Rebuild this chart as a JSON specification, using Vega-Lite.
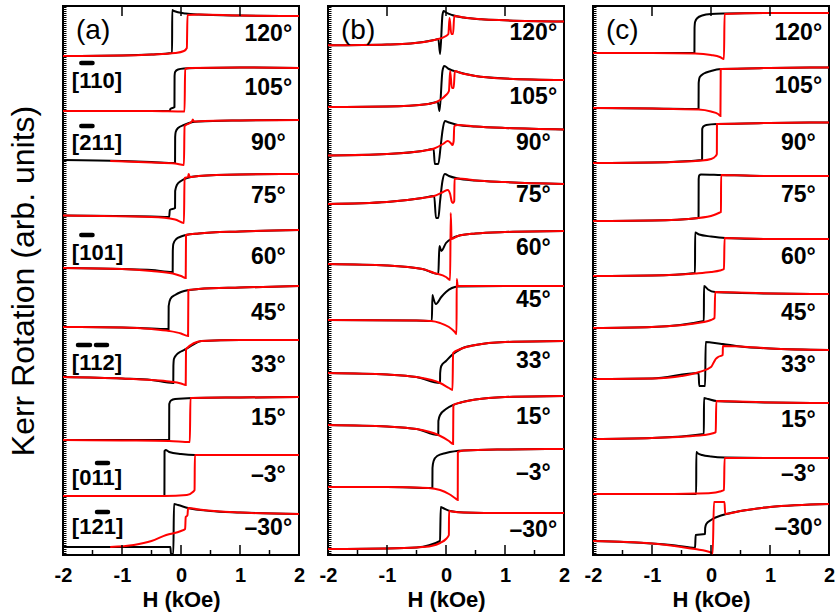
{
"$schema": "https://vega.github.io/schema/vega-lite/v6.json",
"padding": {"left": 6, "top": 4, "right": 3, "bottom": 2},
"spacing": 29,
"bounds": "flush",
"config": {"font": "Liberation Sans", "view": {"stroke": "#000", "strokeWidth": 2}},
"datasets": {
"ak": [
{"a":120,"x":2,"y":539},{"a":120,"x":1,"y":539.5},{"a":120,"x":0.3,"y":540.5},{"a":120,"x":0.08,"y":541.5},{"a":120,"x":-0.12,"y":544},{"a":120,"x":-0.149,"y":545},{"a":120,"x":-0.151,"y":502},{"a":120,"x":-0.5,"y":500.5},{"a":120,"x":-1,"y":499.5},{"a":120,"x":-2,"y":499},
{"a":105,"x":2,"y":487},{"a":105,"x":1,"y":487.5},{"a":105,"x":0.3,"y":487},{"a":105,"x":0.05,"y":486.5},{"a":105,"x":-0.05,"y":485.5},{"a":105,"x":-0.1,"y":483},{"a":105,"x":-0.109,"y":479},{"a":105,"x":-0.111,"y":448},{"a":105,"x":-0.18,"y":446},{"a":105,"x":-0.19,"y":444},{"a":105,"x":-0.5,"y":444},{"a":105,"x":-2,"y":444},
{"a":90,"x":2,"y":435},{"a":90,"x":1,"y":434.5},{"a":90,"x":0.3,"y":433.5},{"a":90,"x":0.2,"y":433},{"a":90,"x":0.05,"y":430},{"a":90,"x":-0.05,"y":427},{"a":90,"x":-0.09,"y":423},{"a":90,"x":-0.099,"y":418},{"a":90,"x":-0.101,"y":392},{"a":90,"x":-0.5,"y":393},{"a":90,"x":-1,"y":394},{"a":90,"x":-2,"y":395},
{"a":75,"x":2,"y":381},{"a":75,"x":1,"y":380.5},{"a":75,"x":0.3,"y":379},{"a":75,"x":0.1,"y":377},{"a":75,"x":0,"y":374},{"a":75,"x":-0.07,"y":370},{"a":75,"x":-0.099,"y":364},{"a":75,"x":-0.101,"y":347},{"a":75,"x":-0.19,"y":345},{"a":75,"x":-0.2,"y":338},{"a":75,"x":-0.5,"y":338.5},{"a":75,"x":-2,"y":339.5},
{"a":60,"x":2,"y":325},{"a":60,"x":1,"y":323.5},{"a":60,"x":0.3,"y":321.5},{"a":60,"x":0.08,"y":320},{"a":60,"x":0,"y":318.5},{"a":60,"x":-0.08,"y":316},{"a":60,"x":-0.13,"y":311},{"a":60,"x":-0.139,"y":304},{"a":60,"x":-0.141,"y":283},{"a":60,"x":-0.5,"y":285},{"a":60,"x":-1,"y":286},{"a":60,"x":-2,"y":287},
{"a":45,"x":2,"y":269},{"a":45,"x":1,"y":267.5},{"a":45,"x":0.3,"y":266},{"a":45,"x":0.13,"y":265},{"a":45,"x":0,"y":263},{"a":45,"x":-0.1,"y":260},{"a":45,"x":-0.18,"y":256},{"a":45,"x":-0.209,"y":249},{"a":45,"x":-0.211,"y":226},{"a":45,"x":-0.5,"y":226.5},{"a":45,"x":-1,"y":227.5},{"a":45,"x":-2,"y":228},
{"a":33,"x":2,"y":215},{"a":33,"x":1,"y":215},{"a":33,"x":0.35,"y":214},{"a":33,"x":0.085,"y":206},{"a":33,"x":0,"y":203.5},{"a":33,"x":-0.08,"y":200},{"a":33,"x":-0.12,"y":196},{"a":33,"x":-0.129,"y":189},{"a":33,"x":-0.131,"y":172},{"a":33,"x":-0.5,"y":175},{"a":33,"x":-1,"y":176.5},{"a":33,"x":-2,"y":178},
{"a":15,"x":2,"y":158},{"a":15,"x":1,"y":157.5},{"a":15,"x":0.2,"y":157},{"a":15,"x":-0.1,"y":156},{"a":15,"x":-0.17,"y":154.5},{"a":15,"x":-0.199,"y":151},{"a":15,"x":-0.201,"y":115},{"a":15,"x":-1,"y":115},{"a":15,"x":-2,"y":115},
{"a":-3,"x":2,"y":100},{"a":-3,"x":1,"y":100},{"a":-3,"x":0.23,"y":100},{"a":-3,"x":0,"y":101},{"a":-3,"x":-0.2,"y":103},{"a":-3,"x":-0.26,"y":105},{"a":-3,"x":-0.279,"y":104},{"a":-3,"x":-0.281,"y":59},{"a":-3,"x":-1,"y":59},{"a":-3,"x":-2,"y":59},
{"a":-30,"x":2,"y":41},{"a":-30,"x":1,"y":42.5},{"a":-30,"x":0.5,"y":44},{"a":-30,"x":0.12,"y":47},{"a":-30,"x":-0.05,"y":50},{"a":-30,"x":-0.119,"y":51},{"a":-30,"x":-0.13,"y":1},{"a":-30,"x":-0.17,"y":1},{"a":-30,"x":-0.18,"y":8},{"a":-30,"x":-0.5,"y":8},{"a":-30,"x":-2,"y":8}
],
"ar": [
{"a":120,"x":-2,"y":499},{"a":120,"x":-1,"y":499.5},{"a":120,"x":-0.5,"y":500.5},{"a":120,"x":-0.1,"y":502},{"a":120,"x":0.05,"y":504},{"a":120,"x":0.099,"y":507},{"a":120,"x":0.11,"y":540},{"a":120,"x":0.3,"y":540.5},{"a":120,"x":1,"y":539.5},{"a":120,"x":2,"y":539},
{"a":105,"x":-2,"y":444},{"a":105,"x":-0.5,"y":444},{"a":105,"x":0.06,"y":443.5},{"a":105,"x":0.07,"y":486},{"a":105,"x":0.15,"y":487},{"a":105,"x":1,"y":487.5},{"a":105,"x":2,"y":487},
{"a":90,"x":-1.2,"y":394},{"a":90,"x":-0.5,"y":392.5},{"a":90,"x":-0.1,"y":391.5},{"a":90,"x":0.05,"y":390},{"a":90,"x":0.06,"y":429},{"a":90,"x":0.15,"y":432},{"a":90,"x":0.19,"y":434},{"a":90,"x":0.2,"y":435.5},{"a":90,"x":0.22,"y":433.5},{"a":90,"x":0.4,"y":434},{"a":90,"x":1,"y":434.5},{"a":90,"x":2,"y":435},
{"a":75,"x":-2,"y":339.5},{"a":75,"x":-0.5,"y":338},{"a":75,"x":-0.1,"y":335.5},{"a":75,"x":0.05,"y":332},{"a":75,"x":0.06,"y":377},{"a":75,"x":0.12,"y":378},{"a":75,"x":0.13,"y":381},{"a":75,"x":0.15,"y":378},{"a":75,"x":0.3,"y":379},{"a":75,"x":1,"y":380.5},{"a":75,"x":2,"y":381},
{"a":60,"x":-2,"y":287},{"a":60,"x":-1,"y":286},{"a":60,"x":-0.5,"y":284},{"a":60,"x":-0.14,"y":281.5},{"a":60,"x":0,"y":279},{"a":60,"x":0.08,"y":277},{"a":60,"x":0.085,"y":320},{"a":60,"x":0.3,"y":321.5},{"a":60,"x":1,"y":323.5},{"a":60,"x":2,"y":325},
{"a":45,"x":-2,"y":228},{"a":45,"x":-1,"y":227.5},{"a":45,"x":-0.5,"y":226},{"a":45,"x":-0.2,"y":224},{"a":45,"x":0,"y":221.5},{"a":45,"x":0.12,"y":219},{"a":45,"x":0.125,"y":265},{"a":45,"x":0.3,"y":266},{"a":45,"x":1,"y":267.5},{"a":45,"x":2,"y":269},
{"a":33,"x":-2,"y":178},{"a":33,"x":-1,"y":176.5},{"a":33,"x":-0.5,"y":175},{"a":33,"x":-0.2,"y":173.5},{"a":33,"x":0,"y":171.5},{"a":33,"x":0.08,"y":170},{"a":33,"x":0.085,"y":206},{"a":33,"x":0.35,"y":214},{"a":33,"x":1,"y":215},{"a":33,"x":2,"y":215},
{"a":15,"x":-2,"y":115},{"a":15,"x":-1,"y":114.5},{"a":15,"x":-0.2,"y":114},{"a":15,"x":0.15,"y":113},{"a":15,"x":0.16,"y":157},{"a":15,"x":1,"y":157.5},{"a":15,"x":2,"y":158},
{"a":-3,"x":-2,"y":59},{"a":-3,"x":-1,"y":59},{"a":-3,"x":-0.28,"y":59},{"a":-3,"x":0.1,"y":60},{"a":-3,"x":0.2,"y":63},{"a":-3,"x":0.23,"y":65},{"a":-3,"x":0.235,"y":100},{"a":-3,"x":1,"y":100},{"a":-3,"x":2,"y":100},
{"a":-30,"x":-1.2,"y":8},{"a":-30,"x":-0.8,"y":10},{"a":-30,"x":-0.5,"y":14},{"a":-30,"x":-0.25,"y":20},{"a":-30,"x":0,"y":24},{"a":-30,"x":0.07,"y":26},{"a":-30,"x":0.08,"y":38},{"a":-30,"x":0.1,"y":39},{"a":-30,"x":0.11,"y":40},{"a":-30,"x":0.12,"y":47},{"a":-30,"x":0.3,"y":45.5},{"a":-30,"x":1,"y":42.5},{"a":-30,"x":2,"y":41}
],
"bk": [
{"a":120,"x":2,"y":533.5},{"a":120,"x":1,"y":534.7},{"a":120,"x":0.6,"y":535.7},{"a":120,"x":0.3,"y":537.5},{"a":120,"x":0.1,"y":540},{"a":120,"x":0,"y":542.5},{"a":120,"x":-0.04,"y":544},{"a":120,"x":-0.06,"y":540},{"a":120,"x":-0.1,"y":501},{"a":120,"x":-0.13,"y":516},{"a":120,"x":-0.2,"y":515},{"a":120,"x":-0.6,"y":511.5},{"a":120,"x":-1,"y":510.5},{"a":120,"x":-2,"y":509.7},
{"a":105,"x":2,"y":475},{"a":105,"x":1,"y":476.5},{"a":105,"x":0.5,"y":479},{"a":105,"x":0.2,"y":483},{"a":105,"x":0.05,"y":486},{"a":105,"x":-0.03,"y":489},{"a":105,"x":-0.06,"y":484},{"a":105,"x":-0.11,"y":444},{"a":105,"x":-0.14,"y":453},{"a":105,"x":-0.3,"y":451},{"a":105,"x":-1,"y":448.5},{"a":105,"x":-2,"y":448},
{"a":90,"x":2,"y":425.5},{"a":90,"x":1,"y":427},{"a":90,"x":0.5,"y":428.5},{"a":90,"x":0.2,"y":430},{"a":90,"x":0.05,"y":432.5},{"a":90,"x":-0.02,"y":434},{"a":90,"x":-0.06,"y":424},{"a":90,"x":-0.09,"y":409},{"a":90,"x":-0.13,"y":391},{"a":90,"x":-0.19,"y":391},{"a":90,"x":-0.21,"y":406},{"a":90,"x":-0.4,"y":404},{"a":90,"x":-1,"y":401},{"a":90,"x":-2,"y":399.5},
{"a":75,"x":2,"y":371},{"a":75,"x":1,"y":373},{"a":75,"x":0.5,"y":374.5},{"a":75,"x":0.2,"y":376.5},{"a":75,"x":0.05,"y":379},{"a":75,"x":-0.02,"y":381},{"a":75,"x":-0.06,"y":374},{"a":75,"x":-0.1,"y":354},{"a":75,"x":-0.13,"y":337},{"a":75,"x":-0.17,"y":337},{"a":75,"x":-0.2,"y":359},{"a":75,"x":-0.4,"y":357},{"a":75,"x":-1,"y":353},{"a":75,"x":-2,"y":351},
{"a":60,"x":2,"y":324},{"a":60,"x":1,"y":323},{"a":60,"x":0.5,"y":321.5},{"a":60,"x":0.2,"y":319},{"a":60,"x":0.1,"y":316.5},{"a":60,"x":0,"y":312},{"a":60,"x":-0.08,"y":304},{"a":60,"x":-0.11,"y":309},{"a":60,"x":-0.119,"y":299},{"a":60,"x":-0.13,"y":281},{"a":60,"x":-0.4,"y":286},{"a":60,"x":-1,"y":289.5},{"a":60,"x":-2,"y":291},
{"a":45,"x":2,"y":269},{"a":45,"x":1,"y":269},{"a":45,"x":0.2,"y":268.5},{"a":45,"x":0.1,"y":267},{"a":45,"x":0,"y":263},{"a":45,"x":-0.08,"y":258},{"a":45,"x":-0.17,"y":251},{"a":45,"x":-0.22,"y":258},{"a":45,"x":-0.23,"y":260},{"a":45,"x":-0.24,"y":234},{"a":45,"x":-0.5,"y":234.5},{"a":45,"x":-2,"y":235},
{"a":33,"x":2,"y":214},{"a":33,"x":1,"y":213},{"a":33,"x":0.5,"y":210},{"a":33,"x":0.25,"y":206},{"a":33,"x":0.1,"y":200},{"a":33,"x":0,"y":194},{"a":33,"x":-0.08,"y":189},{"a":33,"x":-0.099,"y":182},{"a":33,"x":-0.101,"y":172},{"a":33,"x":-0.5,"y":178},{"a":33,"x":-1,"y":180.5},{"a":33,"x":-2,"y":182},
{"a":15,"x":2,"y":159},{"a":15,"x":1,"y":158},{"a":15,"x":0.5,"y":155.5},{"a":15,"x":0.25,"y":152.5},{"a":15,"x":0.12,"y":150},{"a":15,"x":0,"y":146},{"a":15,"x":-0.1,"y":140},{"a":15,"x":-0.129,"y":134},{"a":15,"x":-0.131,"y":120},{"a":15,"x":-0.5,"y":126},{"a":15,"x":-1,"y":128.5},{"a":15,"x":-2,"y":130},
{"a":-3,"x":2,"y":106},{"a":-3,"x":1,"y":105.5},{"a":-3,"x":0.3,"y":104.5},{"a":-3,"x":0,"y":102},{"a":-3,"x":-0.15,"y":99},{"a":-3,"x":-0.21,"y":94},{"a":-3,"x":-0.229,"y":87},{"a":-3,"x":-0.231,"y":67},{"a":-3,"x":-1,"y":68},{"a":-3,"x":-2,"y":68},
{"a":-30,"x":2,"y":42},{"a":-30,"x":1,"y":42},{"a":-30,"x":0.3,"y":42.5},{"a":-30,"x":0.07,"y":44},{"a":-30,"x":-0.05,"y":47},{"a":-30,"x":-0.089,"y":48},{"a":-30,"x":-0.101,"y":14},{"a":-30,"x":-0.5,"y":7.5},{"a":-30,"x":-1,"y":6.5},{"a":-30,"x":-2,"y":6}
],
"br": [
{"a":120,"x":-2,"y":509.7},{"a":120,"x":-1,"y":510.5},{"a":120,"x":-0.6,"y":511.5},{"a":120,"x":-0.2,"y":515},{"a":120,"x":0,"y":519},{"a":120,"x":0.04,"y":521},{"a":120,"x":0.06,"y":537},{"a":120,"x":0.09,"y":521},{"a":120,"x":0.12,"y":521},{"a":120,"x":0.14,"y":539},{"a":120,"x":0.3,"y":537.5},{"a":120,"x":0.6,"y":535.7},{"a":120,"x":1,"y":534.7},{"a":120,"x":2,"y":533.5},
{"a":105,"x":-2,"y":448},{"a":105,"x":-1,"y":448.5},{"a":105,"x":-0.3,"y":451},{"a":105,"x":-0.1,"y":455},{"a":105,"x":0,"y":460},{"a":105,"x":0.05,"y":464},{"a":105,"x":0.07,"y":484},{"a":105,"x":0.1,"y":467},{"a":105,"x":0.13,"y":467},{"a":105,"x":0.15,"y":484},{"a":105,"x":0.25,"y":482},{"a":105,"x":0.5,"y":479},{"a":105,"x":1,"y":476.5},{"a":105,"x":2,"y":475},
{"a":90,"x":-2,"y":399.5},{"a":90,"x":-1,"y":401},{"a":90,"x":-0.4,"y":404},{"a":90,"x":-0.2,"y":406.5},{"a":90,"x":-0.05,"y":411},{"a":90,"x":0.03,"y":414},{"a":90,"x":0.08,"y":412},{"a":90,"x":0.11,"y":410},{"a":90,"x":0.13,"y":414},{"a":90,"x":0.14,"y":429},{"a":90,"x":0.2,"y":430},{"a":90,"x":0.5,"y":428.5},{"a":90,"x":1,"y":427},{"a":90,"x":2,"y":425.5},
{"a":75,"x":-2,"y":351},{"a":75,"x":-1,"y":353},{"a":75,"x":-0.4,"y":357},{"a":75,"x":-0.2,"y":359},{"a":75,"x":-0.05,"y":363},{"a":75,"x":0.03,"y":365},{"a":75,"x":0.07,"y":361},{"a":75,"x":0.1,"y":353},{"a":75,"x":0.12,"y":352},{"a":75,"x":0.14,"y":354},{"a":75,"x":0.145,"y":376},{"a":75,"x":0.2,"y":376.5},{"a":75,"x":0.5,"y":374.5},{"a":75,"x":1,"y":373},{"a":75,"x":2,"y":371},
{"a":60,"x":-2,"y":291},{"a":60,"x":-1,"y":289.5},{"a":60,"x":-0.4,"y":286},{"a":60,"x":-0.2,"y":282},{"a":60,"x":0,"y":278},{"a":60,"x":0.07,"y":275},{"a":60,"x":0.08,"y":342},{"a":60,"x":0.095,"y":316},{"a":60,"x":0.2,"y":319},{"a":60,"x":0.5,"y":321.5},{"a":60,"x":1,"y":323},{"a":60,"x":2,"y":324},
{"a":45,"x":-2,"y":235},{"a":45,"x":-0.5,"y":234.5},{"a":45,"x":-0.25,"y":234},{"a":45,"x":-0.1,"y":232},{"a":45,"x":0.05,"y":228},{"a":45,"x":0.15,"y":223},{"a":45,"x":0.179,"y":221},{"a":45,"x":0.181,"y":276},{"a":45,"x":0.2,"y":269},{"a":45,"x":0.5,"y":269},{"a":45,"x":2,"y":269},
{"a":33,"x":-2,"y":182},{"a":33,"x":-1,"y":180.5},{"a":33,"x":-0.5,"y":178},{"a":33,"x":-0.1,"y":172},{"a":33,"x":0.05,"y":167},{"a":33,"x":0.11,"y":165},{"a":33,"x":0.12,"y":202},{"a":33,"x":0.25,"y":206},{"a":33,"x":0.5,"y":210},{"a":33,"x":1,"y":213},{"a":33,"x":2,"y":214},
{"a":15,"x":-2,"y":130},{"a":15,"x":-1,"y":128.5},{"a":15,"x":-0.5,"y":126},{"a":15,"x":-0.13,"y":120},{"a":15,"x":0.05,"y":114},{"a":15,"x":0.12,"y":111},{"a":15,"x":0.125,"y":150},{"a":15,"x":0.25,"y":152.5},{"a":15,"x":0.5,"y":155.5},{"a":15,"x":1,"y":158},{"a":15,"x":2,"y":159},
{"a":-3,"x":-2,"y":68},{"a":-3,"x":-1,"y":68},{"a":-3,"x":-0.3,"y":67},{"a":-3,"x":-0.1,"y":65},{"a":-3,"x":0.05,"y":61},{"a":-3,"x":0.15,"y":57},{"a":-3,"x":0.199,"y":55},{"a":-3,"x":0.201,"y":103},{"a":-3,"x":0.3,"y":104.5},{"a":-3,"x":1,"y":105.5},{"a":-3,"x":2,"y":106},
{"a":-30,"x":-2,"y":6},{"a":-30,"x":-1,"y":6.5},{"a":-30,"x":-0.5,"y":7.5},{"a":-30,"x":-0.25,"y":9},{"a":-30,"x":-0.1,"y":12},{"a":-30,"x":0,"y":16},{"a":-30,"x":0.049,"y":20},{"a":-30,"x":0.051,"y":44},{"a":-30,"x":0.1,"y":43.5},{"a":-30,"x":0.3,"y":42.5},{"a":-30,"x":1,"y":42},{"a":-30,"x":2,"y":42}
],
"ck": [
{"a":120,"x":2,"y":542},{"a":120,"x":1,"y":542},{"a":120,"x":0.24,"y":541.5},{"a":120,"x":0,"y":541},{"a":120,"x":-0.15,"y":539.5},{"a":120,"x":-0.23,"y":537},{"a":120,"x":-0.27,"y":533},{"a":120,"x":-0.279,"y":527},{"a":120,"x":-0.281,"y":502},{"a":120,"x":-1,"y":502},{"a":120,"x":-2,"y":502},
{"a":105,"x":2,"y":487.5},{"a":105,"x":1,"y":487},{"a":105,"x":0.17,"y":486},{"a":105,"x":0,"y":484},{"a":105,"x":-0.12,"y":481.5},{"a":105,"x":-0.19,"y":478},{"a":105,"x":-0.209,"y":472},{"a":105,"x":-0.211,"y":446},{"a":105,"x":-1,"y":446.5},{"a":105,"x":-2,"y":447},
{"a":90,"x":2,"y":432.5},{"a":90,"x":1,"y":432},{"a":90,"x":0.1,"y":431},{"a":90,"x":-0.08,"y":430},{"a":90,"x":-0.13,"y":428.5},{"a":90,"x":-0.149,"y":426},{"a":90,"x":-0.151,"y":395},{"a":90,"x":-1,"y":392.5},{"a":90,"x":-2,"y":392},
{"a":75,"x":2,"y":379},{"a":75,"x":1,"y":379},{"a":75,"x":0.17,"y":380},{"a":75,"x":-0.17,"y":380.5},{"a":75,"x":-0.2,"y":379.5},{"a":75,"x":-0.209,"y":376},{"a":75,"x":-0.211,"y":337},{"a":75,"x":-1,"y":334.5},{"a":75,"x":-2,"y":334},
{"a":60,"x":2,"y":316},{"a":60,"x":1,"y":316},{"a":60,"x":0.24,"y":317},{"a":60,"x":0,"y":318.5},{"a":60,"x":-0.2,"y":320.5},{"a":60,"x":-0.269,"y":322.5},{"a":60,"x":-0.271,"y":282},{"a":60,"x":-1,"y":279.5},{"a":60,"x":-2,"y":279},
{"a":45,"x":2,"y":261},{"a":45,"x":1,"y":261.5},{"a":45,"x":0.07,"y":263},{"a":45,"x":-0.05,"y":265.5},{"a":45,"x":-0.119,"y":269},{"a":45,"x":-0.121,"y":234},{"a":45,"x":-1,"y":228},{"a":45,"x":-2,"y":227},
{"a":33,"x":2,"y":205},{"a":33,"x":1,"y":206.5},{"a":33,"x":0.5,"y":208.5},{"a":33,"x":0.2,"y":211},{"a":33,"x":0,"y":212.5},{"a":33,"x":-0.09,"y":213},{"a":33,"x":-0.1,"y":169},{"a":33,"x":-0.2,"y":169},{"a":33,"x":-0.21,"y":182},{"a":33,"x":-1,"y":176.5},{"a":33,"x":-2,"y":176},
{"a":15,"x":2,"y":152},{"a":15,"x":1,"y":152.5},{"a":15,"x":0.09,"y":154},{"a":15,"x":-0.05,"y":156},{"a":15,"x":-0.119,"y":157},{"a":15,"x":-0.121,"y":121},{"a":15,"x":-1,"y":117},{"a":15,"x":-2,"y":116},
{"a":-3,"x":2,"y":97},{"a":-3,"x":1,"y":97},{"a":-3,"x":0.23,"y":97.5},{"a":-3,"x":0,"y":98.5},{"a":-3,"x":-0.15,"y":100},{"a":-3,"x":-0.22,"y":101.5},{"a":-3,"x":-0.249,"y":103},{"a":-3,"x":-0.251,"y":61},{"a":-3,"x":-1,"y":61},{"a":-3,"x":-2,"y":61},
{"a":-30,"x":2,"y":51},{"a":-30,"x":1,"y":48},{"a":-30,"x":0.5,"y":44},{"a":-30,"x":0.2,"y":40},{"a":-30,"x":0,"y":35},{"a":-30,"x":-0.08,"y":31},{"a":-30,"x":-0.099,"y":27},{"a":-30,"x":-0.101,"y":21},{"a":-30,"x":-0.26,"y":20},{"a":-30,"x":-0.27,"y":7},{"a":-30,"x":-0.6,"y":9.5},{"a":-30,"x":-1,"y":11.5},{"a":-30,"x":-2,"y":14}
],
"cr": [
{"a":120,"x":-2,"y":502},{"a":120,"x":-1,"y":502},{"a":120,"x":-0.27,"y":501.5},{"a":120,"x":0,"y":500},{"a":120,"x":0.15,"y":498},{"a":120,"x":0.22,"y":496},{"a":120,"x":0.23,"y":541},{"a":120,"x":1,"y":542},{"a":120,"x":2,"y":542},
{"a":105,"x":-2,"y":447},{"a":105,"x":-1,"y":446.5},{"a":105,"x":-0.21,"y":445.5},{"a":105,"x":0,"y":443.5},{"a":105,"x":0.12,"y":441},{"a":105,"x":0.16,"y":439},{"a":105,"x":0.165,"y":486},{"a":105,"x":1,"y":487},{"a":105,"x":2,"y":487.5},
{"a":90,"x":-2,"y":392},{"a":90,"x":-1,"y":392.5},{"a":90,"x":-0.15,"y":394.5},{"a":90,"x":0,"y":396},{"a":90,"x":0.08,"y":399},{"a":90,"x":0.099,"y":401},{"a":90,"x":0.101,"y":431},{"a":90,"x":1,"y":432},{"a":90,"x":2,"y":432.5},
{"a":75,"x":-2,"y":334},{"a":75,"x":-1,"y":334.5},{"a":75,"x":-0.21,"y":337},{"a":75,"x":0.05,"y":340},{"a":75,"x":0.15,"y":342.5},{"a":75,"x":0.169,"y":343},{"a":75,"x":0.171,"y":380},{"a":75,"x":1,"y":379},{"a":75,"x":2,"y":379},
{"a":60,"x":-2,"y":279},{"a":60,"x":-1,"y":279.5},{"a":60,"x":-0.27,"y":281.5},{"a":60,"x":0,"y":283},{"a":60,"x":0.15,"y":284.5},{"a":60,"x":0.22,"y":286},{"a":60,"x":0.23,"y":317},{"a":60,"x":1,"y":316},{"a":60,"x":2,"y":316},
{"a":45,"x":-2,"y":227},{"a":45,"x":-1,"y":228},{"a":45,"x":-0.12,"y":233},{"a":45,"x":0,"y":235},{"a":45,"x":0.06,"y":237},{"a":45,"x":0.07,"y":263},{"a":45,"x":1,"y":261.5},{"a":45,"x":2,"y":261},
{"a":33,"x":-2,"y":176},{"a":33,"x":-1,"y":176.5},{"a":33,"x":-0.5,"y":179},{"a":33,"x":-0.2,"y":183},{"a":33,"x":0,"y":188},{"a":33,"x":0.05,"y":193},{"a":33,"x":0.08,"y":196},{"a":33,"x":0.12,"y":198},{"a":33,"x":0.199,"y":200},{"a":33,"x":0.201,"y":209},{"a":33,"x":0.5,"y":208.5},{"a":33,"x":1,"y":206.5},{"a":33,"x":2,"y":205},
{"a":15,"x":-2,"y":116},{"a":15,"x":-1,"y":117},{"a":15,"x":-0.12,"y":120},{"a":15,"x":0.05,"y":122},{"a":15,"x":0.08,"y":123},{"a":15,"x":0.09,"y":154},{"a":15,"x":1,"y":152.5},{"a":15,"x":2,"y":152},
{"a":-3,"x":-2,"y":61},{"a":-3,"x":-1,"y":61},{"a":-3,"x":-0.25,"y":61.5},{"a":-3,"x":0,"y":62},{"a":-3,"x":0.15,"y":63.5},{"a":-3,"x":0.22,"y":65},{"a":-3,"x":0.23,"y":97},{"a":-3,"x":1,"y":97},{"a":-3,"x":2,"y":97},
{"a":-30,"x":-2,"y":14},{"a":-30,"x":-1,"y":11.5},{"a":-30,"x":-0.5,"y":8},{"a":-30,"x":-0.27,"y":6},{"a":-30,"x":0,"y":2.5},{"a":-30,"x":0.029,"y":1.5},{"a":-30,"x":0.05,"y":53},{"a":-30,"x":0.229,"y":53},{"a":-30,"x":0.24,"y":41},{"a":-30,"x":0.5,"y":44},{"a":-30,"x":1,"y":48},{"a":-30,"x":2,"y":51}
],
"lab": [
{"p":"a","t":"120°","x":1.48,"y":521},{"p":"a","t":"105°","x":1.48,"y":467},{"p":"a","t":"90°","x":1.48,"y":412},{"p":"a","t":"75°","x":1.48,"y":359},{"p":"a","t":"60°","x":1.48,"y":298},{"p":"a","t":"45°","x":1.48,"y":242},{"p":"a","t":"33°","x":1.48,"y":190},{"p":"a","t":"15°","x":1.48,"y":137},{"p":"a","t":"–3°","x":1.48,"y":80},{"p":"a","t":"–30°","x":1.48,"y":27},
{"p":"b","t":"120°","x":1.48,"y":522},{"p":"b","t":"105°","x":1.48,"y":458},{"p":"b","t":"90°","x":1.48,"y":412},{"p":"b","t":"75°","x":1.48,"y":360},{"p":"b","t":"60°","x":1.48,"y":307},{"p":"b","t":"45°","x":1.48,"y":255},{"p":"b","t":"33°","x":1.48,"y":194},{"p":"b","t":"15°","x":1.48,"y":138},{"p":"b","t":"–3°","x":1.48,"y":82},{"p":"b","t":"–30°","x":1.48,"y":25},
{"p":"c","t":"120°","x":1.48,"y":522},{"p":"c","t":"105°","x":1.48,"y":469},{"p":"c","t":"90°","x":1.48,"y":412},{"p":"c","t":"75°","x":1.48,"y":360},{"p":"c","t":"60°","x":1.48,"y":298},{"p":"c","t":"45°","x":1.48,"y":242},{"p":"c","t":"33°","x":1.48,"y":190},{"p":"c","t":"15°","x":1.48,"y":135},{"p":"c","t":"–3°","x":1.48,"y":81},{"p":"c","t":"–30°","x":1.48,"y":27}
],
"pl": [{"p":"a","t":"(a)","x":-1.78,"y":524},{"p":"b","t":"(b)","x":-1.78,"y":524},{"p":"c","t":"(c)","x":-1.78,"y":524}],
"mil": [
{"t":"[110]","x":-1.85,"y":474},{"t":"[211]","x":-1.85,"y":412},{"t":"[101]","x":-1.85,"y":302},{"t":"[112]","x":-1.85,"y":192},{"t":"[011]","x":-1.85,"y":77},{"t":"[121]","x":-1.85,"y":28}
],
"bar": [
{"x":-1.69,"x2":-1.5,"y":492},{"x":-1.69,"x2":-1.5,"y":429},{"x":-1.69,"x2":-1.5,"y":320},{"x":-1.746,"x2":-1.542,"y":210},{"x":-1.441,"x2":-1.254,"y":210},{"x":-1.424,"x2":-1.237,"y":92},{"x":-1.424,"x2":-1.237,"y":43}
],
"tk": [
{"x":-1,"y":549,"y2":539},{"x":0,"y":549,"y2":539},{"x":1,"y":549,"y2":539},
{"x":-1.5,"y":0,"y2":5},{"x":-1,"y":0,"y2":10},{"x":-0.5,"y":0,"y2":5},{"x":0,"y":0,"y2":10},{"x":0.5,"y":0,"y2":5},{"x":1,"y":0,"y2":10},{"x":1.5,"y":0,"y2":5}
]
},
"hconcat": [
{
"width": 236, "height": 549,
"encoding": {
  "x": {"field": "x", "type": "quantitative", "scale": {"domain": [-2, 2], "nice": false},
   "axis": {"orient": "bottom", "values": [-2,-1,0,1,2], "labelExpr": "datum.value < 0 ? '-' + abs(datum.value) : '' + datum.value", "ticks": false, "domain": false, "grid": false, "labelFontSize": 20, "labelFontWeight": "bold", "labelColor": "#000", "labelPadding": 10, "labelFlush": false, "labelOverlap": false, "labelBound": false, "title": "H (kOe)", "titleFontSize": 22, "titleFontWeight": "bold", "titleColor": "#000", "titlePadding": 4}},
  "y": {"field": "y", "type": "quantitative", "scale": {"domain": [0, 549], "nice": false},
   "axis": {"orient": "left", "labels": false, "tickCount": 200, "tickSize": -3, "tickWidth": 1, "tickColor": "#000", "domain": false, "grid": false, "title": "Kerr Rotation (arb. units)", "titleFontSize": 32, "titleFontWeight": "normal", "titleColor": "#000", "titlePadding": 22}}
},
"layer": [
{"data": {"name": "ak"}, "mark": {"type": "line", "color": "#000000", "strokeWidth": 2, "interpolate": "monotone", "clip": true},
 "encoding": {"detail": {"field": "a", "type": "nominal"}}},
{"data": {"name": "ar"}, "mark": {"type": "line", "color": "#ff0000", "strokeWidth": 2, "interpolate": "monotone", "clip": true},
 "encoding": {"detail": {"field": "a", "type": "nominal"}}},
{"data": {"name": "tk"}, "mark": {"type": "rule", "strokeWidth": 1.5, "color": "#000"},
 "encoding": {"y2": {"field": "y2"}}},
{"data": {"name": "lab"}, "transform": [{"filter": "datum.p === 'a'"}], "mark": {"type": "text", "fontSize": 23, "fontWeight": "bold", "align": "center", "baseline": "middle", "color": "#000"},
 "encoding": {"text": {"field": "t"}}},
{"data": {"name": "mil"}, "mark": {"type": "text", "fontSize": 22, "fontWeight": "bold", "align": "left", "baseline": "middle", "color": "#000"},
 "encoding": {"text": {"field": "t"}}},
{"data": {"name": "bar"}, "mark": {"type": "rule", "strokeWidth": 4.5, "strokeCap": "round", "color": "#000"},
 "encoding": {"x2": {"field": "x2"}}},
{"data": {"name": "pl"}, "transform": [{"filter": "datum.p === 'a'"}], "mark": {"type": "text", "fontSize": 28, "align": "left", "baseline": "middle", "color": "#000"},
 "encoding": {"text": {"field": "t"}}}
]
},
{
"width": 236, "height": 549,
"encoding": {
  "x": {"field": "x", "type": "quantitative", "scale": {"domain": [-2, 2], "nice": false},
   "axis": {"orient": "bottom", "values": [-2,-1,0,1,2], "labelExpr": "datum.value < 0 ? '-' + abs(datum.value) : '' + datum.value", "ticks": false, "domain": false, "grid": false, "labelFontSize": 20, "labelFontWeight": "bold", "labelColor": "#000", "labelPadding": 10, "labelFlush": false, "labelOverlap": false, "labelBound": false, "title": "H (kOe)", "titleFontSize": 22, "titleFontWeight": "bold", "titleColor": "#000", "titlePadding": 4}},
  "y": {"field": "y", "type": "quantitative", "scale": {"domain": [0, 549], "nice": false},
   "axis": {"orient": "left", "labels": false, "tickCount": 200, "tickSize": -3, "tickWidth": 1, "tickColor": "#000", "domain": false, "grid": false, "title": null}}
},
"layer": [
{"data": {"name": "bk"}, "mark": {"type": "line", "color": "#000000", "strokeWidth": 2, "interpolate": "monotone", "clip": true},
 "encoding": {"detail": {"field": "a", "type": "nominal"}}},
{"data": {"name": "br"}, "mark": {"type": "line", "color": "#ff0000", "strokeWidth": 2, "interpolate": "monotone", "clip": true},
 "encoding": {"detail": {"field": "a", "type": "nominal"}}},
{"data": {"name": "tk"}, "mark": {"type": "rule", "strokeWidth": 1.5, "color": "#000"},
 "encoding": {"y2": {"field": "y2"}}},
{"data": {"name": "lab"}, "transform": [{"filter": "datum.p === 'b'"}], "mark": {"type": "text", "fontSize": 23, "fontWeight": "bold", "align": "center", "baseline": "middle", "color": "#000"},
 "encoding": {"text": {"field": "t"}}},
{"data": {"name": "pl"}, "transform": [{"filter": "datum.p === 'b'"}], "mark": {"type": "text", "fontSize": 28, "align": "left", "baseline": "middle", "color": "#000"},
 "encoding": {"text": {"field": "t"}}}
]
},
{
"width": 236, "height": 549,
"encoding": {
  "x": {"field": "x", "type": "quantitative", "scale": {"domain": [-2, 2], "nice": false},
   "axis": {"orient": "bottom", "values": [-2,-1,0,1,2], "labelExpr": "datum.value < 0 ? '-' + abs(datum.value) : '' + datum.value", "ticks": false, "domain": false, "grid": false, "labelFontSize": 20, "labelFontWeight": "bold", "labelColor": "#000", "labelPadding": 10, "labelFlush": false, "labelOverlap": false, "labelBound": false, "title": "H (kOe)", "titleFontSize": 22, "titleFontWeight": "bold", "titleColor": "#000", "titlePadding": 4}},
  "y": {"field": "y", "type": "quantitative", "scale": {"domain": [0, 549], "nice": false},
   "axis": {"orient": "left", "labels": false, "tickCount": 200, "tickSize": -3, "tickWidth": 1, "tickColor": "#000", "domain": false, "grid": false, "title": null}}
},
"layer": [
{"data": {"name": "ck"}, "mark": {"type": "line", "color": "#000000", "strokeWidth": 2, "interpolate": "monotone", "clip": true},
 "encoding": {"detail": {"field": "a", "type": "nominal"}}},
{"data": {"name": "cr"}, "mark": {"type": "line", "color": "#ff0000", "strokeWidth": 2, "interpolate": "monotone", "clip": true},
 "encoding": {"detail": {"field": "a", "type": "nominal"}}},
{"data": {"name": "tk"}, "mark": {"type": "rule", "strokeWidth": 1.5, "color": "#000"},
 "encoding": {"y2": {"field": "y2"}}},
{"data": {"name": "lab"}, "transform": [{"filter": "datum.p === 'c'"}], "mark": {"type": "text", "fontSize": 23, "fontWeight": "bold", "align": "center", "baseline": "middle", "color": "#000"},
 "encoding": {"text": {"field": "t"}}},
{"data": {"name": "pl"}, "transform": [{"filter": "datum.p === 'c'"}], "mark": {"type": "text", "fontSize": 28, "align": "left", "baseline": "middle", "color": "#000"},
 "encoding": {"text": {"field": "t"}}}
]
}
]
}
